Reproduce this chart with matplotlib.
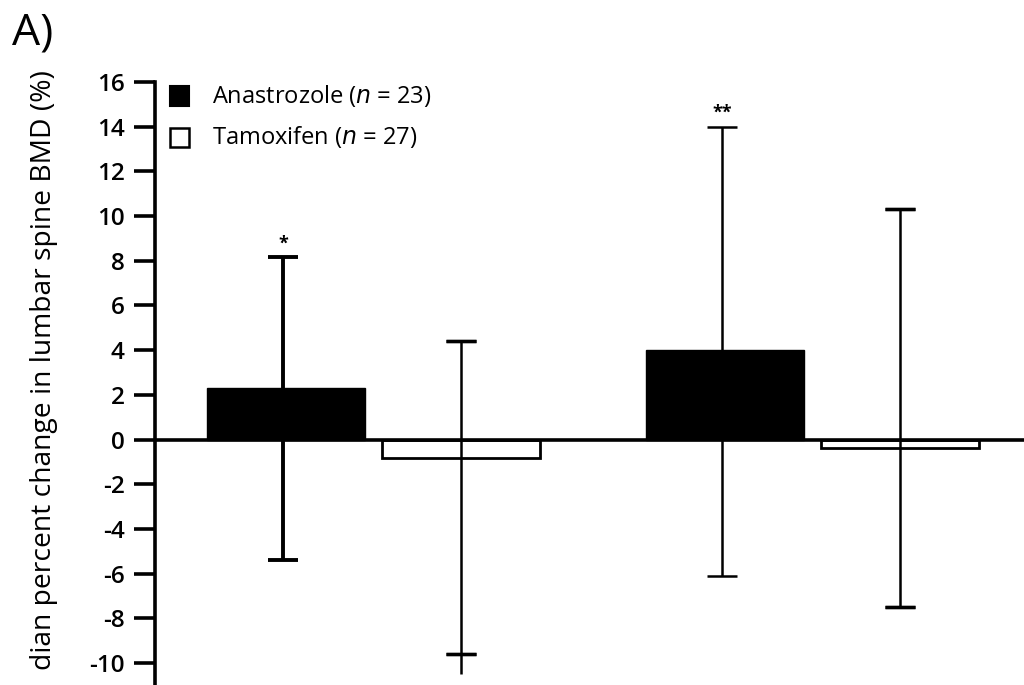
import matplotlib.pyplot as plt
import numpy as np

plt.rcParams['font.family'] = ['Open Sans', 'DejaVu Sans']

# values
groups = [0, 1]
anastrozole = [2.33, 4.02]
anastrozole_hi = [8.18, 14.0]
anastrozole_lo = [-5.4, -6.1]
tamoxifen = [-0.83, -0.36]
tamoxifen_hi = [4.42, 10.3]
tamoxifen_lo = [-10.5, -7.5]
tamoxifen_cap = [-9.6, -7.5]
stars = ['*', '**']
yticks = list(range(-10, 17, 2))

fig = plt.figure(figsize=(10.24, 6.85), dpi=100)
ax = fig.add_axes([155/1024, 0, 869/1024, 603/685])

x = np.array(groups, dtype=float)
off = 0.2027
w = 0.36

ax.bar(x - off + 0.006, anastrozole, w, color='black', edgecolor='black', linewidth=1, zorder=2)
ax.bar(x + off, tamoxifen, w, color='white', edgecolor='black', linewidth=2.0, zorder=2)

ax.axhline(0, color='black', lw=2.6, zorder=3)

# error bars (median with range)
a_lw = [2.8, 1.8]
for i in range(2):
    ax.errorbar(x[i] - off, anastrozole[i],
                yerr=[[anastrozole[i] - anastrozole_lo[i]], [anastrozole_hi[i] - anastrozole[i]]],
                fmt='none', ecolor='black', elinewidth=a_lw[i], capsize=11, capthick=a_lw[i], zorder=4)
    ax.errorbar(x[i] + off, tamoxifen[i],
                yerr=[[tamoxifen[i] - tamoxifen_lo[i]], [tamoxifen_hi[i] - tamoxifen[i]]],
                fmt='none', ecolor='black', elinewidth=1.8, capsize=0, zorder=4)
    ax.errorbar(x[i] + off, tamoxifen_hi[i], yerr=0, fmt='none', ecolor='black',
                elinewidth=0, capsize=11, capthick=2.4, zorder=4)
    ax.errorbar(x[i] + off, tamoxifen_cap[i], yerr=0, fmt='none', ecolor='black',
                elinewidth=0, capsize=11, capthick=2.4, zorder=4)
    ax.text(x[i] - off, anastrozole_hi[i] + 0.2, stars[i], ha='center', va='bottom',
            fontsize=13, fontweight='bold')

ax.set_xlim(-0.494, 1.485)
ax.set_ylim(-10.98, 16)
ax.set_yticks(yticks)
ax.set_yticklabels([str(t) for t in yticks])
ax.tick_params(axis='y', length=15, width=2.6, labelsize=17.5, pad=7)
for lab in ax.get_yticklabels():
    lab.set_fontweight('semibold')
ax.set_xticks([])
for s in ['top', 'right', 'bottom']:
    ax.spines[s].set_visible(False)
ax.spines['left'].set_linewidth(2.6)

# legend drawn by hand as boxes + labels
lx, ly1, ly2 = 170, 96, 137
fig.patches.append(plt.Rectangle((lx/1024, 1 - 106/685), 19/1024, 20/685, transform=fig.transFigure,
                                 facecolor='black', edgecolor='black', lw=1.5))
fig.patches.append(plt.Rectangle((lx/1024, 1 - 147/685), 19/1024, 19/685, transform=fig.transFigure,
                                 facecolor='white', edgecolor='black', lw=1.8))
fig.text(212/1024, 1 - ly1/685, r'Anastrozole ($\it{n}$ = 23)', fontsize=17, va='center', ha='left')
fig.text(212/1024, 1 - ly2/685, r'Tamoxifen ($\it{n}$ = 27)', fontsize=17, va='center', ha='left')

fig.text(12/1024, 1 - 33/685, 'A)', fontsize=32, va='center', ha='left')
fig.text(44/1024, 1 - 370/685, 'dian percent change in lumbar spine BMD (%)', fontsize=20.3,
         fontweight='medium', rotation=90, va='center', ha='center')

fig.savefig('out.png', dpi=100)
